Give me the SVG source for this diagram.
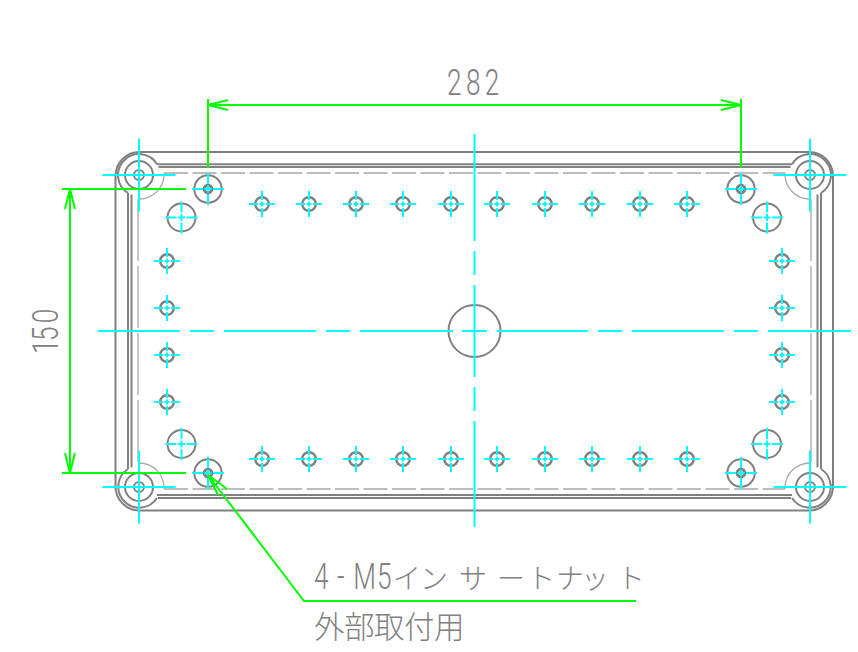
<svg xmlns="http://www.w3.org/2000/svg" width="858" height="652" viewBox="0 0 858 652">
<style>
.g{fill:none;stroke:#808080;stroke-width:2}
.gt{fill:none;stroke:#808080;stroke-width:2.4}
.d{fill:none;stroke:#a8a8a8;stroke-width:1.3}
.c{fill:none;stroke:#00ffff;stroke-width:2}
.l{fill:none;stroke:#00ff00;stroke-width:2}
text{fill:#808080}
.n{font-family:Roboto,"Liberation Sans",sans-serif;font-weight:300;font-size:37.500px}
.j{font-family:"Noto Sans CJK JP",sans-serif;font-weight:300}
</style>
<defs>
<g id="small"><circle class="gt" r="6.8"/><path class="c" d="M-13 0H13M0-13V13" stroke-dasharray="9 1.5 5 1.5 9"/></g>
<g id="large"><circle class="g" r="14"/><path class="c" d="M-16 0H16M0-16V16" stroke-dasharray="11 1.5 7 1.5 11"/></g>
<g id="m5"><circle class="g" r="13.7"/><circle fill="none" stroke="#808080" stroke-width="3" r="3.8"/><path class="c" d="M-16 0H16M0-16V16" stroke-dasharray="11 1.5 7 1.5 11"/></g>
<g id="boss"><circle class="g" r="5"/><circle class="g" r="14"/><path class="c" d="M-36.5 0H36.5M0-36.5V36.5"/></g>
</defs>
<g id="body">
<rect class="g" x="115.500" y="152" width="717.500" height="358.500" rx="24" ry="24"/>
<path class="g" d="M157 164.300H792M158.500 167H790.500M128 193V469M131.500 194.600V467.400M817.500 194.600V467.400M821 193V469M157 495H792M158 498H791"/>
<path class="g" d="M157 164.300A21 21 0 1 0 128 193M792 164.300A21 21 0 1 1 821 193M128 469A21 21 0 1 0 157 498M821 469A21 21 0 1 1 792 498"/>
<path class="d" d="M164 173A25 25 0 0 1 139 199M785 173A25 25 0 0 0 811 199M139 463A25 25 0 0 1 164 489M811 463A25 25 0 0 0 785 489"/>
<path class="d" d="M164 173H785M164 489H785" stroke-dasharray="24 4.500"/>
<path class="d" d="M138 199V463M811 199V463" stroke-dasharray="62 5"/>
</g>
<g id="bosses">
<use href="#boss" x="139" y="175"/>
<use href="#boss" x="810" y="175"/>
<use href="#boss" x="139" y="487"/>
<use href="#boss" x="810" y="487"/>
</g>
<g id="inserts">
<use href="#m5" x="208" y="189"/><use href="#m5" x="741" y="189"/>
<use href="#m5" x="208" y="473"/><use href="#m5" x="741" y="473"/>
</g>
<g id="large-holes">
<use href="#large" x="181.500" y="217.500"/><use href="#large" x="767" y="217.500"/>
<use href="#large" x="181.500" y="444"/><use href="#large" x="767" y="444"/>
</g>
<g id="small-holes">
<use href="#small" x="262" y="204"/><use href="#small" x="309" y="204"/><use href="#small" x="356" y="204"/><use href="#small" x="403" y="204"/><use href="#small" x="451" y="204"/><use href="#small" x="497" y="204"/><use href="#small" x="545" y="204"/><use href="#small" x="592" y="204"/><use href="#small" x="640" y="204"/><use href="#small" x="687" y="204"/>
<use href="#small" x="262" y="459"/><use href="#small" x="309" y="459"/><use href="#small" x="356" y="459"/><use href="#small" x="403" y="459"/><use href="#small" x="451" y="459"/><use href="#small" x="497" y="459"/><use href="#small" x="545" y="459"/><use href="#small" x="592" y="459"/><use href="#small" x="640" y="459"/><use href="#small" x="687" y="459"/>
<use href="#small" x="167" y="261"/><use href="#small" x="167" y="308"/><use href="#small" x="167" y="355"/><use href="#small" x="167" y="402"/>
<use href="#small" x="782" y="261"/><use href="#small" x="782" y="308"/><use href="#small" x="782" y="355"/><use href="#small" x="782" y="402"/>
</g>
<g id="center-hole">
<circle class="g" cx="474.500" cy="331" r="26"/>
<path class="c" d="M98 331H180M190 331H214M224 331H316M326 331H350M360 331H453M462 331H487M497 331H588M598 331H622M632 331H724M734 331H758M768 331H851"/>
<path class="c" d="M474.500 134V241M474.500 251V275M474.500 285V377M474.500 387V411M474.500 421V527"/>
</g>
<g id="connectors">
<path class="l" d="M208 99V168M741 99V168M208 105H741M228 100L208 105L228 110M721 100L741 105L721 110"/>
<path class="l" d="M62 189H186M62 473H186M70 189V473M65 209L70 189L75 209M65 453L70 473L75 453"/>
<path class="l" d="M208 475L304 601H636M227 489L208 475L218 495"/>
</g>
<g id="labels">
<text class="n" transform="translate(447 95) scale(.7 1)" x="0 27 54" y="0">282</text>
<text class="n" transform="translate(58 354) rotate(-90) scale(.7 1)" x="0 18.500 44" y="0">150</text>
<text class="n" transform="translate(314 589) scale(.7 1)" x="0 33 56 90" y="0">4-M5</text>
<text class="j" font-size="28" y="589" x="393 420 459 497 527 556 581 617">インサートナット</text>
<text class="j" font-size="30.500" y="638" x="314 344 374 404 434">外部取付用</text>
</g>
</svg>
